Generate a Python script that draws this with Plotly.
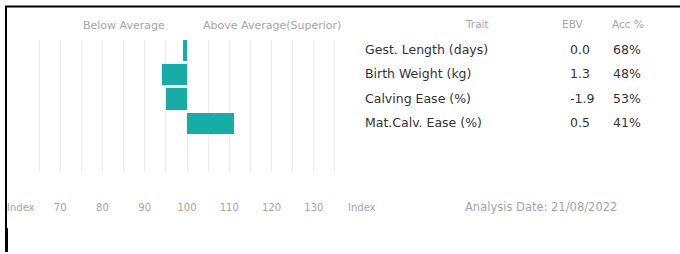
import plotly.graph_objects as go

traits = ["Gest. Length (days)", "Birth Weight (kg)", "Calving Ease (%)", "Mat.Calv. Ease (%)"]
index_values = [99, 94, 95, 111]
ebv = ["0.0", "1.3", "-1.9", "0.5"]
acc = ["68%", "48%", "53%", "41%"]
tick_vals = [60, 65, 70, 75, 80, 85, 90, 95, 100, 105, 110, 115, 120, 125, 130, 135, 140]
tick_text = ["", "", "70", "", "80", "", "90", "", "100", "", "110", "", "120", "", "130", "", ""]
axis_name = "Index"
analysis_date = "Analysis Date: 21/08/2022"

W, H = 680, 254
BAR_COLOR = "#17ADA6"
GRAY = "#a5a5a5"
DARK = "#333333"

def px(x):
    return x / W

def py(y):
    return 1 - y / H

fig = go.Figure()
fig.add_trace(go.Bar(
    y=traits,
    x=[v - 100 for v in index_values],
    base=100,
    orientation="h",
    marker=dict(color=BAR_COLOR, line=dict(width=0)),
    width=0.86,
    hoverinfo="skip",
))

plot_top, plot_bot = 40, 172
row_px = 24.5
first_center = 50
y_top = -(first_center - plot_top) / row_px
y_bot = (plot_bot - first_center) / row_px

fig.update_layout(
    width=W, height=H,
    margin=dict(l=0, r=0, t=0, b=0, pad=0),
    paper_bgcolor="white", plot_bgcolor="white",
    showlegend=False,
    bargap=0,
    xaxis=dict(
        domain=[px(17.5), px(356.5)],
        range=[59.9, 140.1],
        tickvals=tick_vals, ticktext=tick_text,
        showgrid=True, gridcolor="#ececec", gridwidth=1,
        zeroline=False, showline=False, ticks="",
        tickfont=dict(family="DejaVu Sans", size=10, color=GRAY),
        ticklabelstandoff=28,
        automargin=False,
        fixedrange=True,
    ),
    yaxis=dict(
        domain=[py(plot_bot), py(plot_top)],
        type="category",
        categoryorder="array", categoryarray=traits,
        range=[y_bot, y_top],
        showticklabels=False, showgrid=False, zeroline=False, showline=False,
        automargin=False,
        fixedrange=True,
    ),
    font=dict(family="DejaVu Sans"),
)

ann = []
def add_text(text, x, y, size, color, xanchor="center", family="DejaVu Sans"):
    ann.append(dict(text=text, x=px(x), y=py(y), xref="paper", yref="paper",
                    xanchor=xanchor, yanchor="middle", showarrow=False,
                    font=dict(family=family, size=size, color=color)))

add_text("Below Average", 124, 25, 11, GRAY)
add_text("Above Average(Superior)", 272, 25, 11, GRAY)
add_text("Trait", 477, 24, 10.5, GRAY)
add_text("EBV", 573, 24, 10.5, GRAY)
add_text("Acc %", 628, 24, 10.5, GRAY)
for i, t in enumerate(traits):
    yc = first_center + i * row_px - 1
    add_text(t, 363, yc, 12.5, DARK, xanchor="left")
    add_text(ebv[i], 568, yc, 12.5, DARK, xanchor="left")
    add_text(acc[i], 611, yc, 12.5, DARK, xanchor="left")
add_text(axis_name, 21, 207, 10, GRAY)
add_text(axis_name, 362, 207, 10, GRAY)
add_text(analysis_date, 541, 207, 11.5, GRAY)
fig.update_layout(annotations=ann)

fig.add_shape(type="line", xref="paper", yref="paper", x0=px(5), x1=1, y0=py(6.5), y1=py(6.5),
              line=dict(color="black", width=2))
fig.add_shape(type="line", xref="paper", yref="paper", x0=px(6), x1=px(6), y0=py(6), y1=py(228),
              line=dict(color="black", width=2))
fig.add_shape(type="line", xref="paper", yref="paper", x0=px(6.5), x1=px(6.5), y0=py(228), y1=py(252),
              line=dict(color="black", width=3))

fig.write_html("out.html", config={"displayModeBar": False, "staticPlot": True},
               post_script="document.body.style.margin='0px';")
